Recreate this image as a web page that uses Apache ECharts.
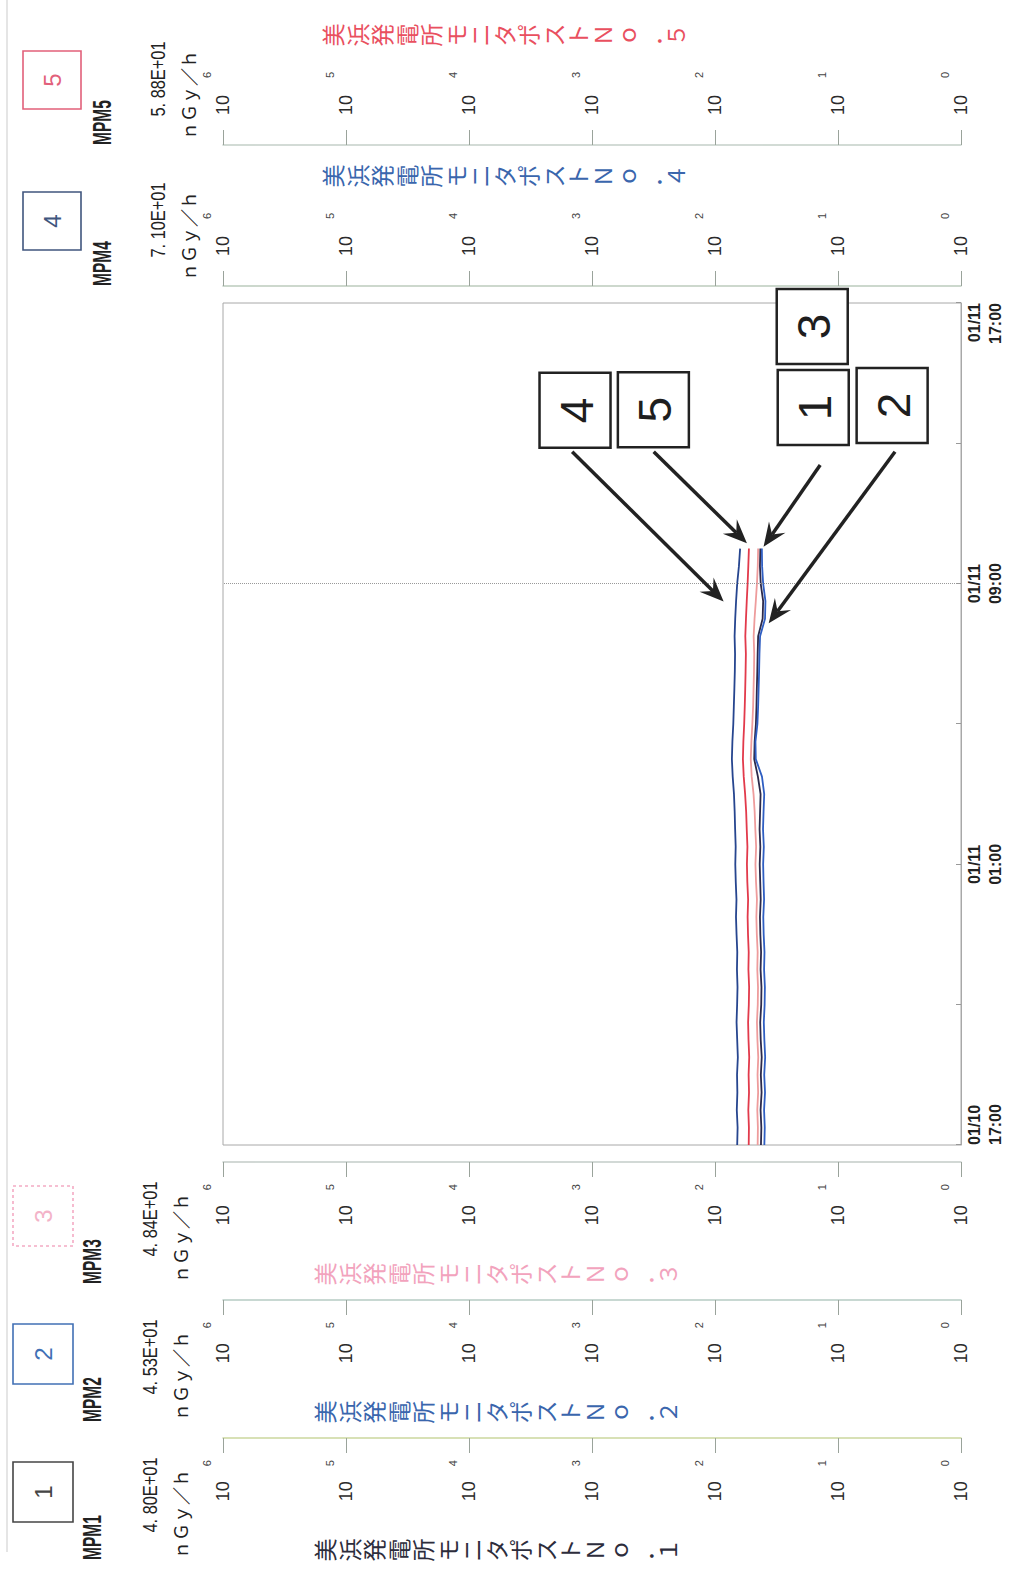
<!DOCTYPE html>
<html>
<head>
<meta charset="utf-8">
<title>美浜発電所モニタポスト 空間線量率</title>
<script src="https://cdn.jsdelivr.net/npm/echarts@6/dist/echarts.min.js"></script>
<style>
html, body { margin: 0; padding: 0; background: #fff; overflow: hidden; }
/* the sheet is printed sideways: draw it upright, then turn it a quarter to the left */
#page {
    position: absolute; left: 0; top: 0;
    width: 1572px; height: 1017px;
    transform-origin: 0 0;
    transform: translate(0, 1572px) rotate(-90deg);
}
</style>
</head>
<body>
<div id="page"></div>
<script>
// ---- data ----
const stations = ['MPM1', 'MPM2', 'MPM3', 'MPM4', 'MPM5'];
const stationNames = [
    '美浜発電所モニタポストＮｏ．１',
    '美浜発電所モニタポストＮｏ．２',
    '美浜発電所モニタポストＮｏ．３',
    '美浜発電所モニタポストＮｏ．４',
    '美浜発電所モニタポストＮｏ．５'
];
const currentValues = ['4. 80E+01', '4. 53E+01', '4. 84E+01', '7. 10E+01', '5. 88E+01'];
const unitLabel = 'ｎＧｙ／ｈ';
const timeLabels = ['01/10\n17:00', '01/11\n01:00', '01/11\n09:00', '01/11\n17:00'];
const markerHour = 16;   // 01/11 09:00, dotted line

// hours after 01/10 17:00
const hours = [0, 0.5, 1, 1.5, 2, 2.5, 3, 3.5, 4, 4.5, 5, 5.5, 6, 6.5, 7, 7.5, 8, 8.5, 9, 9.5,
    10, 10.5, 11, 11.5, 12, 12.5, 13, 13.5, 14, 14.5, 15, 15.5, 16, 16.5, 17];

// nGy/h
const mpm1 = [42.3, 42.0, 42.6, 41.8, 42.4, 41.7, 42.5, 42.9, 42.1, 41.9,
    42.6, 42.2, 42.8, 43.1, 42.5, 42.9, 43.3, 42.8, 43.4, 43.0,
    42.6, 44.8, 48.0, 47.6, 46.5, 46.0, 45.7, 45.3, 45.0, 44.6,
    41.0, 40.6, 42.5, 43.1, 42.8];
const mpm2 = [39.7, 39.4, 39.9, 39.2, 39.8, 39.1, 39.7, 40.1, 39.5, 39.3,
    39.9, 39.6, 40.2, 40.5, 39.9, 40.3, 40.6, 40.1, 40.7, 40.3,
    39.8, 41.5, 46.6, 46.9, 45.2, 44.6, 44.2, 43.8, 43.5, 43.0,
    39.2, 38.9, 40.6, 41.4, 41.6];
const mpm3 = [45.0, 44.8, 45.3, 44.6, 45.1, 44.5, 45.2, 45.6, 44.9, 44.7,
    45.3, 45.0, 45.7, 46.1, 45.6, 46.4, 46.9, 46.3, 47.0, 47.6,
    48.6, 50.3, 51.2, 50.6, 49.7, 49.0, 48.6, 48.2, 48.0, 48.5,
    47.7, 46.6, 45.6, 44.9, 44.6];
const mpm4 = [66.0, 65.5, 66.5, 65.8, 66.2, 65.2, 66.0, 66.8, 66.1, 65.6,
    66.3, 65.9, 66.8, 67.5, 66.9, 67.8, 68.4, 67.9, 68.6, 69.2,
    70.1, 71.8, 72.9, 72.2, 71.0, 70.3, 69.6, 69.0, 68.7, 69.3,
    68.5, 67.4, 66.0, 63.9, 62.5];
const mpm5 = [53.2, 53.0, 53.6, 52.9, 53.3, 52.7, 53.4, 53.8, 53.1, 52.8,
    53.5, 53.2, 53.9, 54.3, 53.8, 54.6, 55.0, 54.5, 55.2, 55.8,
    56.9, 58.4, 59.3, 58.8, 57.9, 57.3, 56.8, 56.4, 56.1, 56.7,
    56.0, 55.2, 54.3, 53.6, 53.0];
const seriesData = [mpm1, mpm2, mpm3, mpm4, mpm5];

// ---- layout / style ----
const GRID = { left: 427, right: 303, top: 223, bottom: 56 };
const axisOffsets = [293, 155, 17, 17, 158];
const axisX = [427 - 293, 427 - 155, 427 - 17, 1269 + 17, 1269 + 158];
const lineColors = ['#2d2a4a', '#2f5ec2', '#ee9c9c', '#26458f', '#e23a4b'];
const axisColors = ['#cbd79e', '#b6cbc3', '#c3ccc8', '#bccbbd', '#c4cfc8'];
const titleColors = ['#2d2d3c', '#3a66ad', '#f2a3bd', '#3a66ad', '#e9505f'];
const boxColors = ['#454545', '#4170b5', '#f4aac4', '#40567e', '#e2607a'];
const FONT = '"Liberation Sans", Arial, sans-serif';
const CJK = '"Noto Sans CJK JP", sans-serif';

const chart = echarts.init(document.getElementById('page'), null, { renderer: 'svg' });

function yAxis(i) {
    const left = i < 3;
    return {
        type: 'log', logBase: 10, min: 1, max: 1e6, splitNumber: 6,
        position: left ? 'left' : 'right',
        offset: axisOffsets[i],
        axisLine: { show: true, onZero: false, lineStyle: { color: axisColors[i], width: 1.5 } },
        axisTick: { show: true, length: 15, lineStyle: { color: '#9aa39b' } },
        splitLine: { show: false },
        axisLabel: {
            margin: left ? 22 : 30,
            formatter: v => '{b|10}{e|' + Math.round(Math.log10(v)) + '}',
            rich: {
                b: { fontSize: 18, lineHeight: 44, color: '#2b2b2b', fontFamily: FONT },
                e: { fontSize: 11, lineHeight: 11, verticalAlign: 'top', color: '#444',
                     fontFamily: FONT, padding: [0, 0, 0, left ? 15 : 17] }
            }
        }
    };
}

const option = {
    animation: false,
    backgroundColor: '#fff',
    grid: Object.assign({ show: true, borderColor: '#a8a8a8', borderWidth: 1,
        containLabel: false, outerBoundsMode: 'none' }, GRID),
    xAxis: {
        type: 'value', min: 0, max: 24, interval: 8,
        axisLine: { show: true, onZero: false, lineStyle: { color: '#a8a8a8' } },
        axisTick: { show: true, inside: true, length: 5, lineStyle: { color: '#999' } },
        minorTick: { show: true, splitNumber: 2, length: 5, lineStyle: { color: '#999' } },
        splitLine: { show: false },
        axisLabel: {
            margin: 3, fontSize: 16, fontWeight: 'bold', lineHeight: 21, color: '#222', fontFamily: FONT,
            alignMinLabel: 'left', alignMaxLabel: 'right',
            formatter: v => timeLabels[Math.round(v / 8)]
        }
    },
    yAxis: stations.map((s, i) => yAxis(i)),
    series: seriesData.map((d, i) => ({
        name: stations[i],
        type: 'line',
        yAxisIndex: i,
        data: hours.map((h, j) => [h, d[j]]),
        showSymbol: false,
        lineStyle: { width: 1.8, color: lineColors[i] },
        itemStyle: { color: lineColors[i] },
        markLine: i === 0 ? {
            silent: true, symbol: ['none', 'none'], label: { show: false },
            lineStyle: { type: 'dotted', color: '#999', width: 1 },
            data: [{ xAxis: markerHour }]
        } : undefined
    }))
};
chart.setOption(option);

// ---- header blocks, station titles, callouts ----
const g = [];
// faint page edge
g.push({ type: 'line', shape: { x1: 20, y1: 7, x2: 1572, y2: 7 },
    style: { stroke: '#dcdcdc', lineWidth: 1.5 } });

stations.forEach((s, i) => {
    const ax = axisX[i];
    const left = i < 3;
    const box = left ? { x: ax - 84, y: 13, w: 60, h: 60 } : { x: ax + 36, y: 23, w: 58, h: 58 };
    g.push({ type: 'rect', shape: { x: box.x, y: box.y, width: box.w, height: box.h },
        style: { fill: '#fff', stroke: boxColors[i], lineWidth: 1.6, lineDash: i === 2 ? [3, 3] : null } });
    g.push({ type: 'text', x: box.x + box.w / 2, y: box.y + box.h / 2,
        style: { text: String(i + 1), font: '24px ' + FONT, fill: i === 2 ? '#f3b3c8' : boxColors[i],
                 align: 'center', verticalAlign: 'middle' } });
    g.push({ type: 'text', x: left ? ax - 122 : ax, y: left ? 92 : 102, scaleX: 0.62,
        style: { text: s, font: 'bold 25px ' + FONT, fill: '#222', align: 'left', verticalAlign: 'middle' } });
    g.push({ type: 'text', x: left ? ax - 57 : ax + 66, y: left ? 150 : 158, scaleX: 0.78,
        style: { text: currentValues[i], font: '21px ' + FONT, fill: '#222', align: 'center', verticalAlign: 'middle' } });
    g.push({ type: 'text', x: left ? ax - 76 : ax + 50, y: left ? 180 : 188,
        style: { text: unitLabel, font: '18px ' + CJK, fill: '#222', align: 'center', verticalAlign: 'middle' } });
    g.push({ type: 'text', x: left ? ax - 112 : ax + 110, y: left ? 312 : 320,
        style: { text: Array.from(stationNames[i]).join('\n'), font: '23px ' + CJK, lineHeight: 24.5,
                 fill: titleColors[i], align: 'center', verticalAlign: 'top' } });
});

// numbered callouts pointing at the traces (hours, nGy/h)
const callouts = [
    { label: '4', at: [20.94, 1374], tail: [19.76, 1449], tip: [15.49, 85.1] },
    { label: '5', at: [20.96, 317], tail: [19.76, 315], tip: [17.15, 55.0] },
    { label: '3', at: [23.33, 16.2] },
    { label: '1', at: [21.02, 15.9], tail: [19.38, 13.96], tip: [17.05, 40.3] },
    { label: '2', at: [21.08, 3.63], tail: [19.76, 3.44], tip: [14.87, 36.6] }
];
const toPx = p => chart.convertToPixel({ xAxisIndex: 0, yAxisIndex: 0 }, p);

callouts.forEach(c => {
    const p = toPx(c.at);
    const w = 75, h = 71;
    g.push({ type: 'rect', z: 10, shape: { x: p[0] - w / 2, y: p[1] - h / 2, width: w, height: h },
        style: { fill: '#fff', stroke: '#222', lineWidth: 2.5 } });
    g.push({ type: 'text', z: 11, x: p[0], y: p[1] + 2,
        style: { text: c.label, font: '46px ' + FONT, fill: '#1e1e1e', align: 'center', verticalAlign: 'middle' } });
    if (!c.tip) return;
    const a = toPx(c.tail), b = toPx(c.tip);
    const dx = b[0] - a[0], dy = b[1] - a[1], len = Math.hypot(dx, dy);
    const ux = dx / len, uy = dy / len, nx = -uy, ny = ux;
    const L = 24, W = 10, N = 15;
    g.push({ type: 'line', z: 10, shape: { x1: a[0], y1: a[1], x2: b[0] - ux * N, y2: b[1] - uy * N },
        style: { stroke: '#222', lineWidth: 3.5 } });
    g.push({ type: 'polygon', z: 10, shape: { points: [
        [b[0], b[1]],
        [b[0] - ux * L + nx * W, b[1] - uy * L + ny * W],
        [b[0] - ux * N, b[1] - uy * N],
        [b[0] - ux * L - nx * W, b[1] - uy * L - ny * W]
    ] }, style: { fill: '#222' } });
});

chart.setOption({ graphic: g });
</script>
</body>
</html>
